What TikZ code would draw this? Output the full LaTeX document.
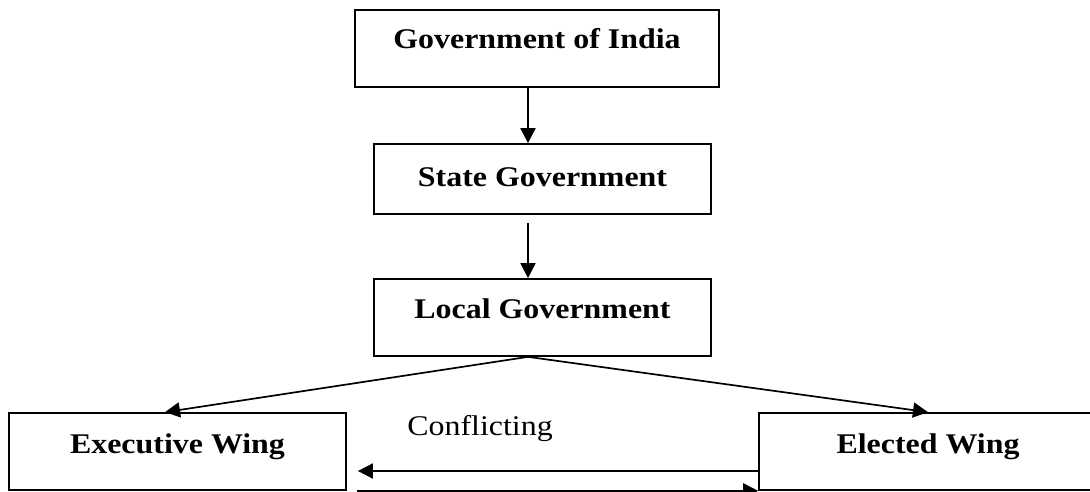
\documentclass[tikz,border=0pt]{standalone}
\usepackage{fontspec}
\setmainfont{Liberation Serif}[FakeStretch=1.12]
\usetikzlibrary{arrows.meta}
\begin{document}
\begin{tikzpicture}[x=1pt,y=-1pt,
  line width=1.7pt,
  every node/.style={font=\fontsize{28.5}{32}\selectfont},
  box/.style={draw, inner sep=0pt, font=\fontsize{28.5}{32}\selectfont\bfseries},
  arr/.style={-{Triangle[length=15pt,width=15pt]}}]
\useasboundingbox (0,0) rectangle (1090,492);

% hierarchy boxes (text sits near the top of each box)
\node[box, minimum width=364pt, text height=39pt, text depth=38pt] (gov) at (537,48.5) {Government of India};
\node[box, minimum width=337pt, text height=42pt, text depth=28pt] (state) at (542.5,179) {State Government};
\node[box, minimum width=337pt, text height=39pt, text depth=38pt] (local) at (542.5,317.5) {Local Government};
\node[box, minimum width=337pt, text height=40pt, text depth=37pt] (exec) at (177.5,451.5) {Executive Wing};
\node[box, minimum width=338pt, text height=40pt, text depth=37pt] (elected) at (928,451.5) {Elected Wing};

\node[anchor=base] (conf) at (480,435) {Conflicting};

% vertical axis of the top arrows
\coordinate (axis) at (528,0);

\draw[arr] (gov.south -| axis) -- (state.north -| axis);
\draw[arr] ([yshift=-8pt]state.south -| axis) -- (local.north -| axis);

\draw[arr] (local.south -| axis) -- ([xshift=-12.5pt]exec.north);
\draw[arr] (local.south -| axis) -- (elected.north);

% two-way relation between the wings
\draw[arr] ([yshift=-19.5pt]elected.west) -- ([yshift=-19.5pt,xshift=11pt]exec.east);
\draw[arr] ([xshift=10pt]exec.south east) -- (elected.south west);
\end{tikzpicture}
\end{document}
